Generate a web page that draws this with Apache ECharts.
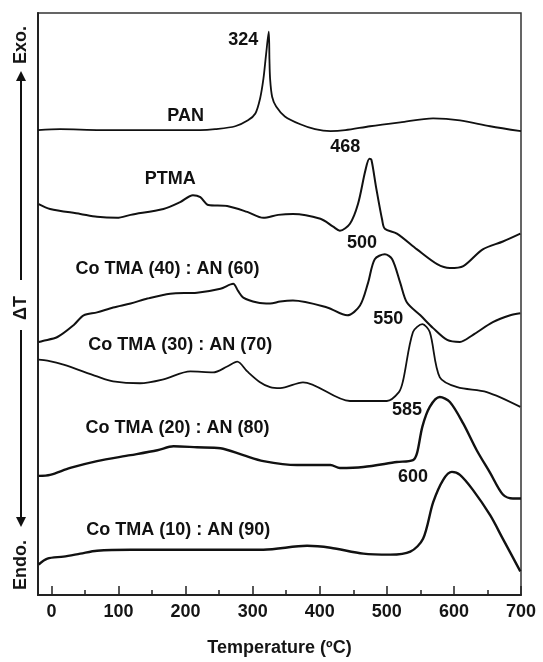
<!DOCTYPE html>
<html>
<head>
<meta charset="utf-8">
<script src="https://cdn.jsdelivr.net/npm/echarts@6/dist/echarts.min.js"></script>
<style>
html,body{margin:0;padding:0;background:#fff;}
#chart{width:543px;height:662px;}
</style>
</head>
<body>
<div id="chart"></div>
<script>
// Temperature (°C) vs stacked ΔT offset (arbitrary units)
const PAN = [[-20,472],[13,473],[73,472],[147,472],[222,472],[244,473],[274,476],[293,482],[304,489],[311,504],[316,524],[320,549],[324,572],[325,544],[326,524],[329,506],[335,496],[348,486],[371,478],[393,473],[416,471],[438,472],[475,476],[520,480],[569,484],[609,482],[654,476],[700,471]];
const PTMA = [[-19,397],[-2,392],[43,387],[68,384],[98,383],[118,386],[167,392],[192,399],[211,406],[222,404],[234,396],[262,395],[292,389],[316,383],[338,386],[360,387],[401,382],[420,374],[430,370],[445,377],[457,397],[468,431],[474,443],[477,442],[484,414],[493,381],[497,372],[515,367],[545,351],[575,336],[594,332],[614,334],[643,351],[673,359],[699,367]];
const CO40 = [[-19,257],[-13,258],[9,262],[33,274],[48,284],[68,287],[92,292],[118,296],[143,301],[177,306],[217,307],[252,311],[271,316],[278,309],[286,302],[307,297],[326,296],[341,298],[360,299],[411,292],[441,284],[460,294],[472,317],[482,341],[497,346],[508,341],[520,317],[530,297],[550,284],[569,271],[590,259],[609,257],[628,264],[658,277],[684,284],[699,286]];
const CO30 = [[-19,239],[-6,238],[18,234],[68,222],[92,217],[132,215],[167,219],[207,227],[241,226],[262,232],[277,237],[292,227],[311,216],[326,211],[341,210],[375,216],[445,197],[500,197],[518,206],[524,217],[539,267],[553,275],[564,267],[579,221],[605,211],[649,206],[699,191]];
const CO20 = [[-19,121],[-2,122],[28,129],[68,136],[118,142],[158,147],[182,151],[217,150],[252,149],[286,142],[316,136],[366,132],[416,132],[430,129],[465,130],[515,135],[539,137],[545,144],[553,171],[564,191],[579,201],[594,196],[614,174],[634,147],[654,124],[673,102],[688,98],[700,98]];
const CO10 = [[-19,31],[-6,37],[18,39],[43,42],[68,45],[118,46],[217,46],[316,46],[381,50],[416,48],[465,42],[505,41],[535,44],[554,57],[569,94],[584,117],[597,125],[609,122],[628,107],[654,81],[673,57],[699,24]];
const seriesNames = ['PAN','PTMA','Co TMA (40) : AN (60)','Co TMA (30) : AN (70)','Co TMA (20) : AN (80)','Co TMA (10) : AN (90)'];
const seriesData = [PAN, PTMA, CO40, CO30, CO20, CO10];
const xTickValues = [0,100,200,300,400,500,600,700];
const xMinorTickValues = [50,150,250,350,450,550,650];
// annotations: [T, offset, text]
const annotations = [
  [286,563,'324'],[200,486,'PAN'],[177,422,'PTMA'],[438,454,'468'],
  [173,331,'Co TMA (40) : AN (60)'],[463,357,'500'],
  [192,253,'Co TMA (30) : AN (70)'],[502,280,'550'],
  [188,169,'Co TMA (20) : AN (80)'],[530,187,'585'],
  [189,65,'Co TMA (10) : AN (90)'],[539,119,'600']
];

const chart = echarts.init(document.getElementById('chart'), null, {renderer:'canvas'});
const FONT = 'Liberation Sans, Arial, Helvetica, sans-serif';
const lineWidths = [1.8,2,2,1.8,2.4,2.4];
const series = seriesData.map((d,i)=>({
  name: seriesNames[i], type:'line', data:d, showSymbol:false, smooth:0.3,
  lineStyle:{color:'#111', width:lineWidths[i]}, animation:false, z:3
}));
series.push({
  type:'scatter', data: annotations.map(a=>({value:[a[0],a[1]], label:{formatter:a[2]}})),
  symbolSize:1, animation:false, silent:true, z:5,
  itemStyle:{color:'#fff', opacity:0},
  label:{show:true, position:'top', distance:0, offset:[0,9], color:'#111', opacity:1,
         textBorderWidth:0, fontFamily:FONT, fontWeight:'bold', fontSize:18}
});

chart.setOption({
  backgroundColor:'#fff',
  animation:false,
  grid:{left:38, right:22, top:13, bottom:58, show:true, borderColor:'#333', borderWidth:1.5, backgroundColor:'transparent'},
  xAxis:[{
    type:'value', min:-20, max:700,
    axisLine:{show:true, onZero:false, lineStyle:{color:'#222', width:2}},
    axisTick:{show:true, inside:true, length:9, customValues:xTickValues, lineStyle:{color:'#222', width:1.5}},
    axisLabel:{show:true, customValues:xTickValues, margin:8, color:'#151515', fontFamily:FONT, fontWeight:'bold', fontSize:18},
    splitLine:{show:false},
    name:'Temperature (ºC)', nameLocation:'middle', nameGap:44,
    nameTextStyle:{color:'#151515', fontFamily:FONT, fontWeight:'bold', fontSize:18}
  },{
    type:'value', min:-20, max:700, position:'bottom',
    axisLine:{show:false, onZero:false},
    axisTick:{show:true, inside:true, length:5, customValues:xMinorTickValues, lineStyle:{color:'#222', width:1.5}},
    axisLabel:{show:false}, splitLine:{show:false}
  }],
  yAxis:{
    type:'value', min:0, max:591,
    axisLine:{show:true, onZero:false, lineStyle:{color:'#222', width:2}},
    axisTick:{show:false}, axisLabel:{show:false}, splitLine:{show:false}
  },
  series: series,
  graphic:[
    {type:'text', x:21, y:45, rotation:Math.PI/2, style:{text:'Exo.', fill:'#151515', font:'bold 18px '+FONT, textAlign:'center', textVerticalAlign:'middle'}},
    {type:'line', shape:{x1:21, y1:280, x2:21, y2:80}, style:{stroke:'#111', lineWidth:2}},
    {type:'polygon', shape:{points:[[21,71],[16,81],[26,81]]}, style:{fill:'#111'}},
    {type:'text', x:21, y:308, rotation:Math.PI/2, style:{text:'ΔT', fill:'#151515', font:'bold 18px '+FONT, textAlign:'center', textVerticalAlign:'middle'}},
    {type:'line', shape:{x1:21, y1:330, x2:21, y2:518}, style:{stroke:'#111', lineWidth:2}},
    {type:'polygon', shape:{points:[[21,527],[16,517],[26,517]]}, style:{fill:'#111'}},
    {type:'text', x:21, y:565, rotation:Math.PI/2, style:{text:'Endo.', fill:'#151515', font:'bold 18px '+FONT, textAlign:'center', textVerticalAlign:'middle'}}
  ]
});
</script>
</body>
</html>
